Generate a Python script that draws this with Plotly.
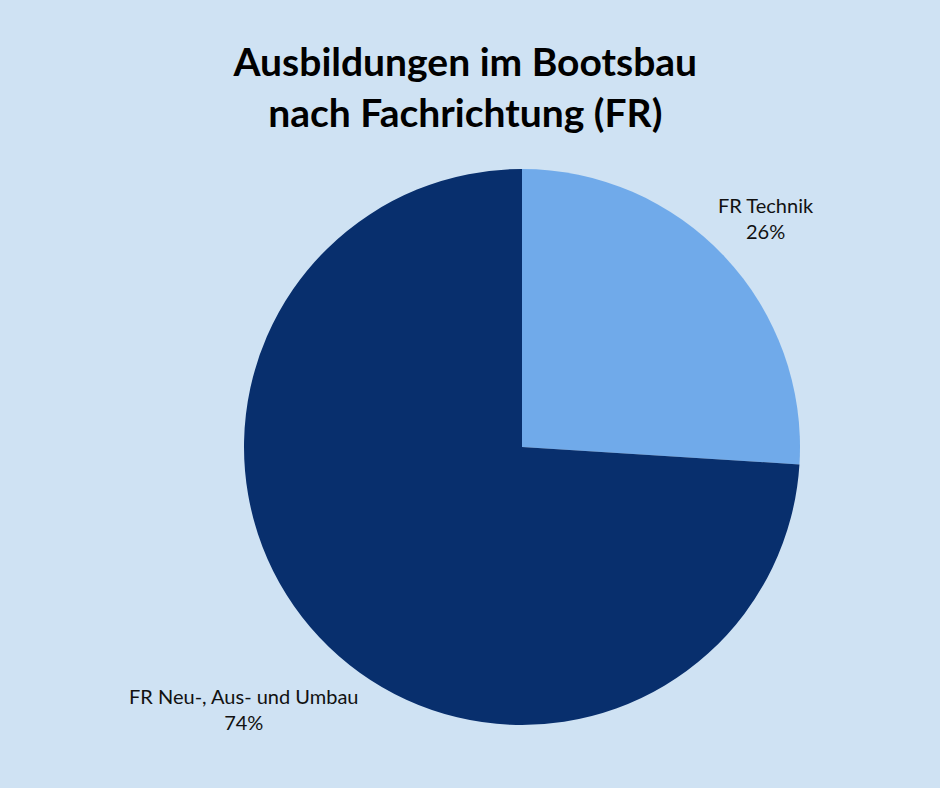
import math

import plotly.graph_objects as go

labels = ["FR Technik", "FR Neu-, Aus- und Umbau"]
values = [26, 74]
colors = ["#70aaea", "#082f6d"]

title_text = "Ausbildungen im Bootsbau<br>nach Fachrichtung (FR)"

fig = go.Figure(go.Pie(
    labels=labels,
    values=values,
    sort=False,
    direction="clockwise",
    rotation=0,
    marker=dict(colors=colors, line=dict(width=0)),
    textinfo="none",
    showlegend=False,
    hoverinfo="label+percent",
))

# outside labels, placed along the middle angle of each slice
# (pie fills the square plot area, 556 px across)
pie_px = 556
label_size = 20
total = sum(values)
start = 0.0
for label, value in zip(labels, values):
    mid = 2 * math.pi * (start + value / 2) / total
    start += value
    dx, dy = math.sin(mid), math.cos(mid)
    pct = f"{round(100 * value / total)}%"
    half_w = 0.5 * 0.5 * label_size * len(label)
    half_h = 0.5 * 2.3 * label_size
    dist = pie_px / 2 + 5 + abs(dx) * half_w + abs(dy) * half_h
    fig.add_annotation(
        x=0.5 + dx * dist / pie_px,
        y=0.5 + dy * dist / pie_px,
        xref="paper",
        yref="paper",
        xanchor="center",
        yanchor="middle",
        text=f"{label}<br>{pct}",
        showarrow=False,
        font=dict(family="Lato", size=label_size, color="#111111"),
    )

fig.update_layout(
    width=940,
    height=788,
    paper_bgcolor="#cfe2f3",
    plot_bgcolor="#cfe2f3",
    margin=dict(l=244, r=140, t=169, b=63),
    title=dict(
        text=title_text,
        x=0.495,
        xanchor="center",
        y=0.903,
        yanchor="top",
        font=dict(family="Lato", size=39, color="#000000", weight="bold"),
    ),
)

fig.write_html(
    "out.html",
    config={"displayModeBar": False},
    post_script="document.body.style.margin='0';"
                "document.body.style.background='#cfe2f3';",
)
